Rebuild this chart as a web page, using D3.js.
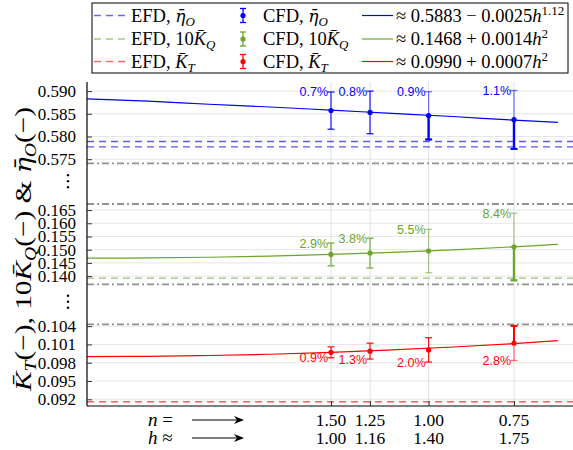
<!DOCTYPE html>
<html><head><meta charset="utf-8">
<script src="https://cdn.jsdelivr.net/npm/d3@7"></script>
<style>
html,body{margin:0;padding:0;background:#fff;}
svg{display:block;}
text{font-family:"Liberation Serif","DejaVu Serif",serif;}
.pct{font-family:"Liberation Sans",Arial,sans-serif;font-size:12.5px;}
</style></head>
<body>
<svg id="chart" width="573" height="450"></svg>
<script>
// ---------------- data ----------------
const hValues   = [1.00, 1.16, 1.40, 1.75];
const nLabels   = ["1.50", "1.25", "1.00", "0.75"];
const hLabels   = ["1.00", "1.16", "1.40", "1.75"];

const etaCFD    = [0.5857, 0.5853, 0.5846, 0.5837];
const etaErrPct = [0.7, 0.8, 0.9, 1.1];
const kqCFD     = [0.1482, 0.1487, 0.1495, 0.1511];
const kqErrPct  = [2.9, 3.8, 5.5, 8.4];
const ktCFD     = [0.0997, 0.0999, 0.1001, 0.1012];
const ktErrPct  = [0.9, 1.3, 2.0, 2.8];

const etaEFD    = [0.5789, 0.5777];
const kqEFD     = [0.1392];
const ktEFD     = [0.0916];

// fit curves
const fitH      = [0, 0.25, 0.5, 0.75, 1.0, 1.25, 1.5, 1.75, 1.93];
const fitEta    = [0.5883, 0.5878, 0.5871, 0.5865, 0.5858, 0.5851, 0.5844, 0.5836, 0.5831];
const fitKQ     = [0.1468, 0.14689, 0.14715, 0.14759, 0.1482, 0.14899, 0.14995, 0.15109, 0.15201];
const fitKT     = [0.0990, 0.09904, 0.09918, 0.09939, 0.0997, 0.10009, 0.10058, 0.10114, 0.10161];

const etaTicks  = [0.575, 0.580, 0.585, 0.590];
const kqTicks   = [0.140, 0.145, 0.150, 0.155, 0.160, 0.165];
const ktTicks   = [0.092, 0.095, 0.098, 0.101, 0.104];

// broken-axis segment limits (bottom→top)
const segBreaks = [0.0909, 0.1043, 0.1369, 0.1673, 0.5741, 0.5920];

// ---------------- layout ----------------
const svg = d3.select("#chart");
const L = 87, R = 573, T = 82, B = 406;
const x = d3.scaleLinear().domain([0, 2]).range([L, 575]);
const y = d3.scaleLinear().domain(segBreaks).range([406, 324.3, 284.3, 204, 163.3, 82]);

const BLUE = "#0000ff", GREEN = "#6ca42c", RED = "#ff0000";
const errStyle = {
  eta: ["full", "full", "lower", "lower"],
  kq:  ["full", "full", "light", "lower"],
  kt:  ["full", "full", "full", "upper"]
};

// grid
const allTicks = etaTicks.concat(kqTicks, ktTicks);
svg.append("g").selectAll("line").data(allTicks).join("line")
  .attr("x1", L).attr("x2", R).attr("y1", d => y(d)).attr("y2", d => y(d))
  .attr("stroke", "#e6e6e6").attr("stroke-width", 1);
svg.append("g").selectAll("line").data(hValues).join("line")
  .attr("x1", d => x(d)).attr("x2", d => x(d)).attr("y1", T).attr("y2", B)
  .attr("stroke", "#e2e2e2").attr("stroke-width", 1);

// break lines (dash-dot)
const breakVals = [segBreaks[1], segBreaks[2], segBreaks[3], segBreaks[4]];
svg.append("g").selectAll("line").data(breakVals).join("line")
  .attr("x1", L).attr("x2", R).attr("y1", d => y(d)).attr("y2", d => y(d))
  .attr("stroke", "#929292").attr("stroke-width", 1.8)
  .attr("stroke-dasharray", "7,3,2,3");

// EFD dashed lines
function efd(vals, color) {
  svg.append("g").selectAll("line").data(vals).join("line")
    .attr("x1", L).attr("x2", R).attr("y1", d => y(d)).attr("y2", d => y(d))
    .attr("stroke", color).attr("stroke-width", 1.3).attr("stroke-opacity", 0.65)
    .attr("stroke-dasharray", "7,5");
}
efd(etaEFD, BLUE); efd(kqEFD, GREEN); efd(ktEFD, RED);

// fit lines
function fit(vals, color) {
  const line = d3.line().x((d, i) => x(fitH[i])).y(d => y(d)).curve(d3.curveMonotoneX);
  svg.append("path").datum(vals).attr("d", line)
    .attr("fill", "none").attr("stroke", color).attr("stroke-width", 1.2);
}
fit(fitEta, BLUE); fit(fitKQ, GREEN); fit(fitKT, RED);

// CFD points with error bars
function cfd(vals, pcts, color, styles, labelPos) {
  const g = svg.append("g");
  vals.forEach((v, i) => {
    const cx = x(hValues[i]);
    const e = v * pcts[i] / 100;
    const yv = y(v), yt = y(v + e), yb = y(v - e);
    const st = styles[i];
    const up = {w: 1.2, o: st === "light" || st === "lower" ? 0.55 : 0.9};
    const lo = {w: st === "lower" ? 2.4 : 1.2, o: st === "light" || st === "upper" ? 0.55 : (st === "lower" ? 1 : 0.9)};
    if (st === "upper") { up.w = 2.0; up.o = 1; }
    g.append("line").attr("x1", cx).attr("x2", cx).attr("y1", yv).attr("y2", yt)
      .attr("stroke", color).attr("stroke-width", up.w).attr("stroke-opacity", up.o);
    g.append("line").attr("x1", cx).attr("x2", cx).attr("y1", yv).attr("y2", yb)
      .attr("stroke", color).attr("stroke-width", lo.w).attr("stroke-opacity", lo.o);
    g.append("line").attr("x1", cx - 3.5).attr("x2", cx + 3.5).attr("y1", yt).attr("y2", yt)
      .attr("stroke", color).attr("stroke-width", st === "upper" ? 2 : 1.3).attr("stroke-opacity", up.o);
    g.append("line").attr("x1", cx - 3.5).attr("x2", cx + 3.5).attr("y1", yb).attr("y2", yb)
      .attr("stroke", color).attr("stroke-width", st === "lower" ? 2.2 : 1.3).attr("stroke-opacity", lo.o);
    g.append("circle").attr("cx", cx).attr("cy", yv).attr("r", 2.6).attr("fill", color);
    g.append("text").attr("class", "pct")
      .attr("x", cx - 3).attr("y", labelPos === "top" ? yt : yb).attr("dy", "0.36em")
      .attr("text-anchor", "end").attr("fill", color)
      .text(pcts[i].toFixed(1) + "%");
  });
}
cfd(etaCFD, etaErrPct, BLUE, errStyle.eta, "top");
cfd(kqCFD, kqErrPct, GREEN, errStyle.kq, "top");
cfd(ktCFD, ktErrPct, RED, errStyle.kt, "bottom");

// axes
const axisG = svg.append("g");
axisG.append("line").attr("x1", L).attr("x2", L).attr("y1", T).attr("y2", B).attr("stroke", "#000").attr("stroke-width", 1.2);
axisG.append("line").attr("x1", L).attr("x2", R).attr("y1", B).attr("y2", B).attr("stroke", "#000").attr("stroke-width", 1.2);

const yAxis = d3.axisLeft(y).tickValues(allTicks).tickSize(-5).tickPadding(11).tickFormat(d3.format(".3f"));
const ya = svg.append("g").attr("transform", `translate(${L},0)`).call(yAxis);
ya.select(".domain").remove();
ya.selectAll("text").attr("font-family", "Liberation Serif, DejaVu Serif, serif").attr("font-size", 17).attr("fill", "#000");
ya.selectAll(".tick line").attr("stroke", "#333");

const xAxis = d3.axisBottom(x).tickValues(hValues).tickSize(-5).tickFormat("");
const xa = svg.append("g").attr("transform", `translate(0,${B})`).call(xAxis);
xa.select(".domain").remove();
xa.selectAll(".tick line").attr("stroke", "#333");

// x labels rows
const rowN = 426, rowH = 444;
svg.append("g").selectAll("text").data(nLabels).join("text")
  .attr("x", (d, i) => x(hValues[i])).attr("y", rowN).attr("text-anchor", "middle")
  .attr("font-size", 17.5).text(d => d);
svg.append("g").selectAll("text").data(hLabels).join("text")
  .attr("x", (d, i) => x(hValues[i])).attr("y", rowH).attr("text-anchor", "middle")
  .attr("font-size", 17.5).text(d => d);

function rowLabel(yb, sym, rel) {
  const t = svg.append("text").attr("x", 148).attr("y", yb).attr("font-size", 19);
  t.append("tspan").attr("font-style", "italic").text(sym);
  t.append("tspan").text(" " + rel);
  const ya2 = yb - 6;
  svg.append("line").attr("x1", 192).attr("x2", 238).attr("y1", ya2).attr("y2", ya2)
    .attr("stroke", "#000").attr("stroke-width", 1.1);
  svg.append("path").attr("d", `M244,${ya2} L234,${ya2 - 4} L237,${ya2} L234,${ya2 + 4} Z`).attr("fill", "#000");
}
rowLabel(rowN, "n", "=");
rowLabel(rowH, "h", "≈");

// ellipsis marks for broken axis
[[segBreaks[4], segBreaks[3]], [segBreaks[2], segBreaks[1]]].forEach(([a, b]) => {
  const cy = (y(a) + y(b)) / 2 - 2.5;
  [-6, 0, 6].forEach(o => svg.append("circle").attr("cx", 68).attr("cy", cy + o).attr("r", 1.2).attr("fill", "#000"));
});

// math helper: barred italic symbol with subscript
function barSym(t, base, sub, subSize, shift) {
  const s = t.append("tspan").attr("font-style", "italic").text(base + "\u0304");
  if (base === "η") s.attr("font-family", "DejaVu Serif").attr("font-size", "0.92em");
  t.append("tspan").attr("font-style", "italic").attr("font-size", subSize).attr("dy", shift).text(sub);
}

// y title
const ytl = svg.append("text").attr("transform", "translate(31,249) rotate(-90)")
  .attr("text-anchor", "middle").attr("font-size", 24);
barSym(ytl, "K", "T", 16, 5);
ytl.append("tspan").attr("dy", -5).text("(−), 10");
barSym(ytl, "K", "Q", 16, 5);
ytl.append("tspan").attr("dy", -5).text("(−) & ");
barSym(ytl, "η", "O", 16, 5);
ytl.append("tspan").attr("dy", -5).text("(−)");
const natLen = ytl.node().getComputedTextLength();
if (natLen < 284) ytl.attr("textLength", 284).attr("lengthAdjust", "spacingAndGlyphs");

// legend
const lg = svg.append("g");
lg.append("rect").attr("x", 92).attr("y", 3).attr("width", 476).attr("height", 70)
  .attr("fill", "#fff").attr("stroke", "#000").attr("stroke-width", 1);
const rows = [15.5, 39, 61.5];
const colors = [BLUE, GREEN, RED];
const names = [["η", "O", ""], ["K", "Q", "10"], ["K", "T", ""]];
const fitTexts = [
  ["≈ 0.5883 − 0.0025", "1.12"],
  ["≈ 0.1468 + 0.0014", "2"],
  ["≈ 0.0990 + 0.0007", "2"]
];
const LF = 18.5;
function nameText(tx, n) {
  if (n[2]) tx.append("tspan").text(n[2]);
  barSym(tx, n[0], n[1], 13, 4);
}
rows.forEach((ry, i) => {
  const c = colors[i];
  lg.append("line").attr("x1", 94).attr("x2", 130).attr("y1", ry).attr("y2", ry)
    .attr("stroke", c).attr("stroke-opacity", 0.6).attr("stroke-width", 1.3).attr("stroke-dasharray", "7,5");
  const t1 = lg.append("text").attr("x", 131).attr("y", ry + 6).attr("font-size", LF);
  t1.append("tspan").text("EFD, ");
  nameText(t1, names[i]);
  lg.append("line").attr("x1", 243).attr("x2", 243).attr("y1", ry - 7).attr("y2", ry + 7).attr("stroke", c).attr("stroke-width", 1.3);
  [ry - 7, ry + 7].forEach(yy => lg.append("line").attr("x1", 240).attr("x2", 246).attr("y1", yy).attr("y2", yy).attr("stroke", c).attr("stroke-width", 1.3));
  lg.append("circle").attr("cx", 243).attr("cy", ry).attr("r", 2.6).attr("fill", c);
  const t2 = lg.append("text").attr("x", 263).attr("y", ry + 6).attr("font-size", LF);
  t2.append("tspan").text("CFD, ");
  nameText(t2, names[i]);
  lg.append("line").attr("x1", 362).attr("x2", 393).attr("y1", ry).attr("y2", ry).attr("stroke", c).attr("stroke-width", 1.2);
  const t3 = lg.append("text").attr("x", 396).attr("y", ry + 6).attr("font-size", LF);
  t3.append("tspan").text(fitTexts[i][0]);
  t3.append("tspan").attr("font-style", "italic").text("h");
  t3.append("tspan").attr("font-size", 13).attr("dy", -7).text(fitTexts[i][1]);
});
</script>
</body></html>
